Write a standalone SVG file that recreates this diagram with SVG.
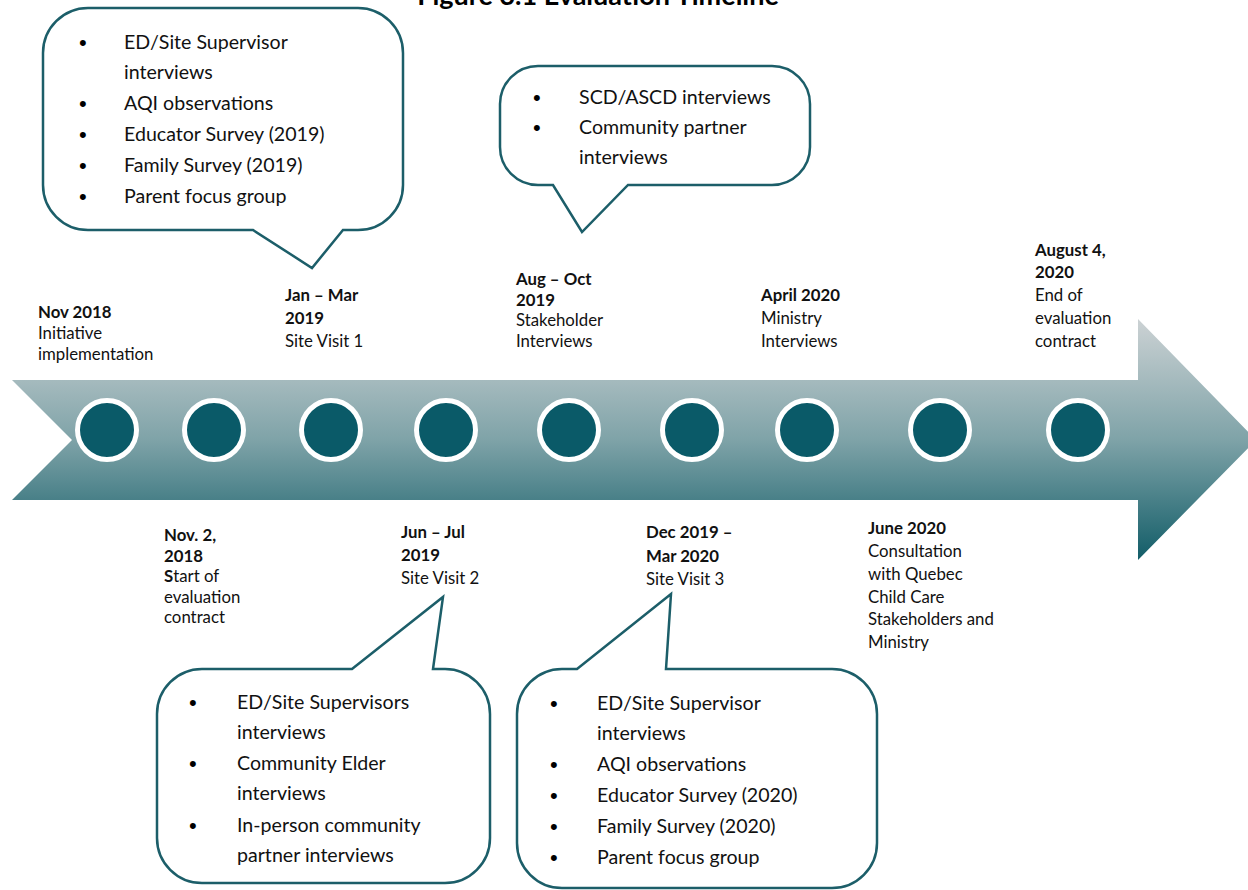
<svg xmlns="http://www.w3.org/2000/svg" width="1248" height="890" viewBox="0 0 1248 890">
  <defs>
    <linearGradient id="arrowGrad" x1="0" y1="319" x2="0" y2="560" gradientUnits="userSpaceOnUse">
      <stop offset="0" stop-color="#ccd2d4"/>
      <stop offset="0.5" stop-color="#7fa3a8"/>
      <stop offset="1" stop-color="#125d68"/>
    </linearGradient>
  </defs>
  <style>
    .title { font-family: Lato, "Liberation Sans", sans-serif; font-weight: bold; font-size: 27px; fill: #000; }
    .lbl { font-family: Lato, "Liberation Sans", sans-serif; font-size: 16.8px; fill: #111; }
    .b { font-weight: bold; }
    .co { fill: #fff; stroke: #1c5e69; stroke-width: 2.5; stroke-linejoin: miter; }
    .ct { font-family: Lato, "Liberation Sans", sans-serif; font-size: 19.6px; fill: #111; }
    .bul { font-family: "Liberation Sans", sans-serif; font-size: 22px; fill: #000; }
    .dot { fill: #0a5a68; stroke: #fff; stroke-width: 5; }
  </style>
  <rect width="1248" height="890" fill="#fff"/>

  <text class="title" x="598" y="5" text-anchor="middle">Figure 3.1 Evaluation Timeline</text>

  <g id="timeline-arrow">
    <path d="M 12,380 H 1138 V 319 L 1256,440 L 1138,560 V 500 H 12 L 72,440 Z" fill="url(#arrowGrad)"/>
  </g>

  <g id="milestones">
    <circle class="dot" cx="107" cy="430" r="29.5"/>
    <circle class="dot" cx="214" cy="430" r="29.5"/>
    <circle class="dot" cx="331" cy="430" r="29.5"/>
    <circle class="dot" cx="446" cy="430" r="29.5"/>
    <circle class="dot" cx="569" cy="430" r="29.5"/>
    <circle class="dot" cx="692" cy="430" r="29.5"/>
    <circle class="dot" cx="807" cy="430" r="29.5"/>
    <circle class="dot" cx="940" cy="430" r="29.5"/>
    <circle class="dot" cx="1078" cy="430" r="29.5"/>
  </g>

  <g id="label-nov2018" class="lbl">
    <text x="38" y="318" class="b">Nov 2018</text>
    <text x="38" y="339">Initiative</text>
    <text x="38" y="360">implementation</text>
  </g>
  <g id="label-jan-mar-2019" class="lbl">
    <text x="285" y="301" class="b">Jan – Mar</text>
    <text x="285" y="324" class="b">2019</text>
    <text x="285" y="347">Site Visit 1</text>
  </g>
  <g id="label-aug-oct-2019" class="lbl">
    <text x="516" y="285" class="b">Aug – Oct</text>
    <text x="516" y="306" class="b">2019</text>
    <text x="516" y="326">Stakeholder</text>
    <text x="516" y="347">Interviews</text>
  </g>
  <g id="label-april-2020" class="lbl">
    <text x="761" y="301" class="b">April 2020</text>
    <text x="761" y="324">Ministry</text>
    <text x="761" y="347">Interviews</text>
  </g>
  <g id="label-aug4-2020" class="lbl">
    <text x="1035" y="256" class="b">August 4,</text>
    <text x="1035" y="278" class="b">2020</text>
    <text x="1035" y="301">End of</text>
    <text x="1035" y="324">evaluation</text>
    <text x="1035" y="347">contract</text>
  </g>
  <g id="label-nov2-2018" class="lbl">
    <text x="164" y="541" class="b">Nov. 2,</text>
    <text x="164" y="562" class="b">2018</text>
    <text x="164" y="582"><tspan class="b">S</tspan>tart of</text>
    <text x="164" y="603">evaluation</text>
    <text x="164" y="623">contract</text>
  </g>
  <g id="label-jun-jul-2019" class="lbl">
    <text x="401" y="538" class="b">Jun – Jul</text>
    <text x="401" y="561" class="b">2019</text>
    <text x="401" y="584">Site Visit 2</text>
  </g>
  <g id="label-dec2019-mar2020" class="lbl">
    <text x="646" y="538" class="b">Dec 2019 –</text>
    <text x="646" y="562" class="b">Mar 2020</text>
    <text x="646" y="585">Site Visit 3</text>
  </g>
  <g id="label-june-2020" class="lbl">
    <text x="868" y="534" class="b">June 2020</text>
    <text x="868" y="557">Consultation</text>
    <text x="868" y="580">with Quebec</text>
    <text x="868" y="603">Child Care</text>
    <text x="868" y="625">Stakeholders and</text>
    <text x="868" y="648">Ministry</text>
  </g>

  <g id="callout-site-visit-1">
    <path class="co" d="M 88,8 H 358 A 45,45 0 0 1 403,53 V 185 A 45,45 0 0 1 358,230 H 343 L 312,268 L 253,230 H 88 A 45,45 0 0 1 43,185 V 53 A 45,45 0 0 1 88,8 Z"/>
    <text class="bul" x="79" y="50">•</text>
    <text class="bul" x="79" y="111">•</text>
    <text class="bul" x="79" y="142">•</text>
    <text class="bul" x="79" y="173">•</text>
    <text class="bul" x="79" y="204">•</text>
    <text class="ct" x="124" y="49">ED/Site Supervisor</text>
    <text class="ct" x="124" y="79">interviews</text>
    <text class="ct" x="124" y="110">AQI observations</text>
    <text class="ct" x="124" y="141">Educator Survey (2019)</text>
    <text class="ct" x="124" y="172">Family Survey (2019)</text>
    <text class="ct" x="124" y="203">Parent focus group</text>
  </g>

  <g id="callout-stakeholder">
    <path class="co" d="M 538,66 H 772 A 38,38 0 0 1 810,104 V 147 A 38,38 0 0 1 772,185 H 628 L 582,232 L 553,185 H 538 A 38,38 0 0 1 500,147 V 104 A 38,38 0 0 1 538,66 Z"/>
    <text class="bul" x="533" y="105">•</text>
    <text class="bul" x="533" y="135">•</text>
    <text class="ct" x="579" y="104">SCD/ASCD interviews</text>
    <text class="ct" x="579" y="134">Community partner</text>
    <text class="ct" x="579" y="164">interviews</text>
  </g>

  <g id="callout-site-visit-2">
    <path class="co" d="M 202,669 H 352 L 443,597 L 433,669 H 445 A 45,45 0 0 1 490,714 V 838 A 45,45 0 0 1 445,883 H 202 A 45,45 0 0 1 157,838 V 714 A 45,45 0 0 1 202,669 Z"/>
    <text class="bul" x="189" y="710">•</text>
    <text class="bul" x="189" y="771">•</text>
    <text class="bul" x="189" y="833">•</text>
    <text class="ct" x="237" y="709">ED/Site Supervisors</text>
    <text class="ct" x="237" y="739">interviews</text>
    <text class="ct" x="237" y="770">Community Elder</text>
    <text class="ct" x="237" y="800">interviews</text>
    <text class="ct" x="237" y="832">In-person community</text>
    <text class="ct" x="237" y="862">partner interviews</text>
  </g>

  <g id="callout-site-visit-3">
    <path class="co" d="M 562,669 H 577 L 671,594 L 666,669 H 832 A 45,45 0 0 1 877,714 V 843 A 45,45 0 0 1 832,888 H 562 A 45,45 0 0 1 517,843 V 714 A 45,45 0 0 1 562,669 Z"/>
    <text class="bul" x="550" y="711">•</text>
    <text class="bul" x="550" y="772">•</text>
    <text class="bul" x="550" y="803">•</text>
    <text class="bul" x="550" y="834">•</text>
    <text class="bul" x="550" y="865">•</text>
    <text class="ct" x="597" y="710">ED/Site Supervisor</text>
    <text class="ct" x="597" y="740">interviews</text>
    <text class="ct" x="597" y="771">AQI observations</text>
    <text class="ct" x="597" y="802">Educator Survey (2020)</text>
    <text class="ct" x="597" y="833">Family Survey (2020)</text>
    <text class="ct" x="597" y="864">Parent focus group</text>
  </g>
</svg>
